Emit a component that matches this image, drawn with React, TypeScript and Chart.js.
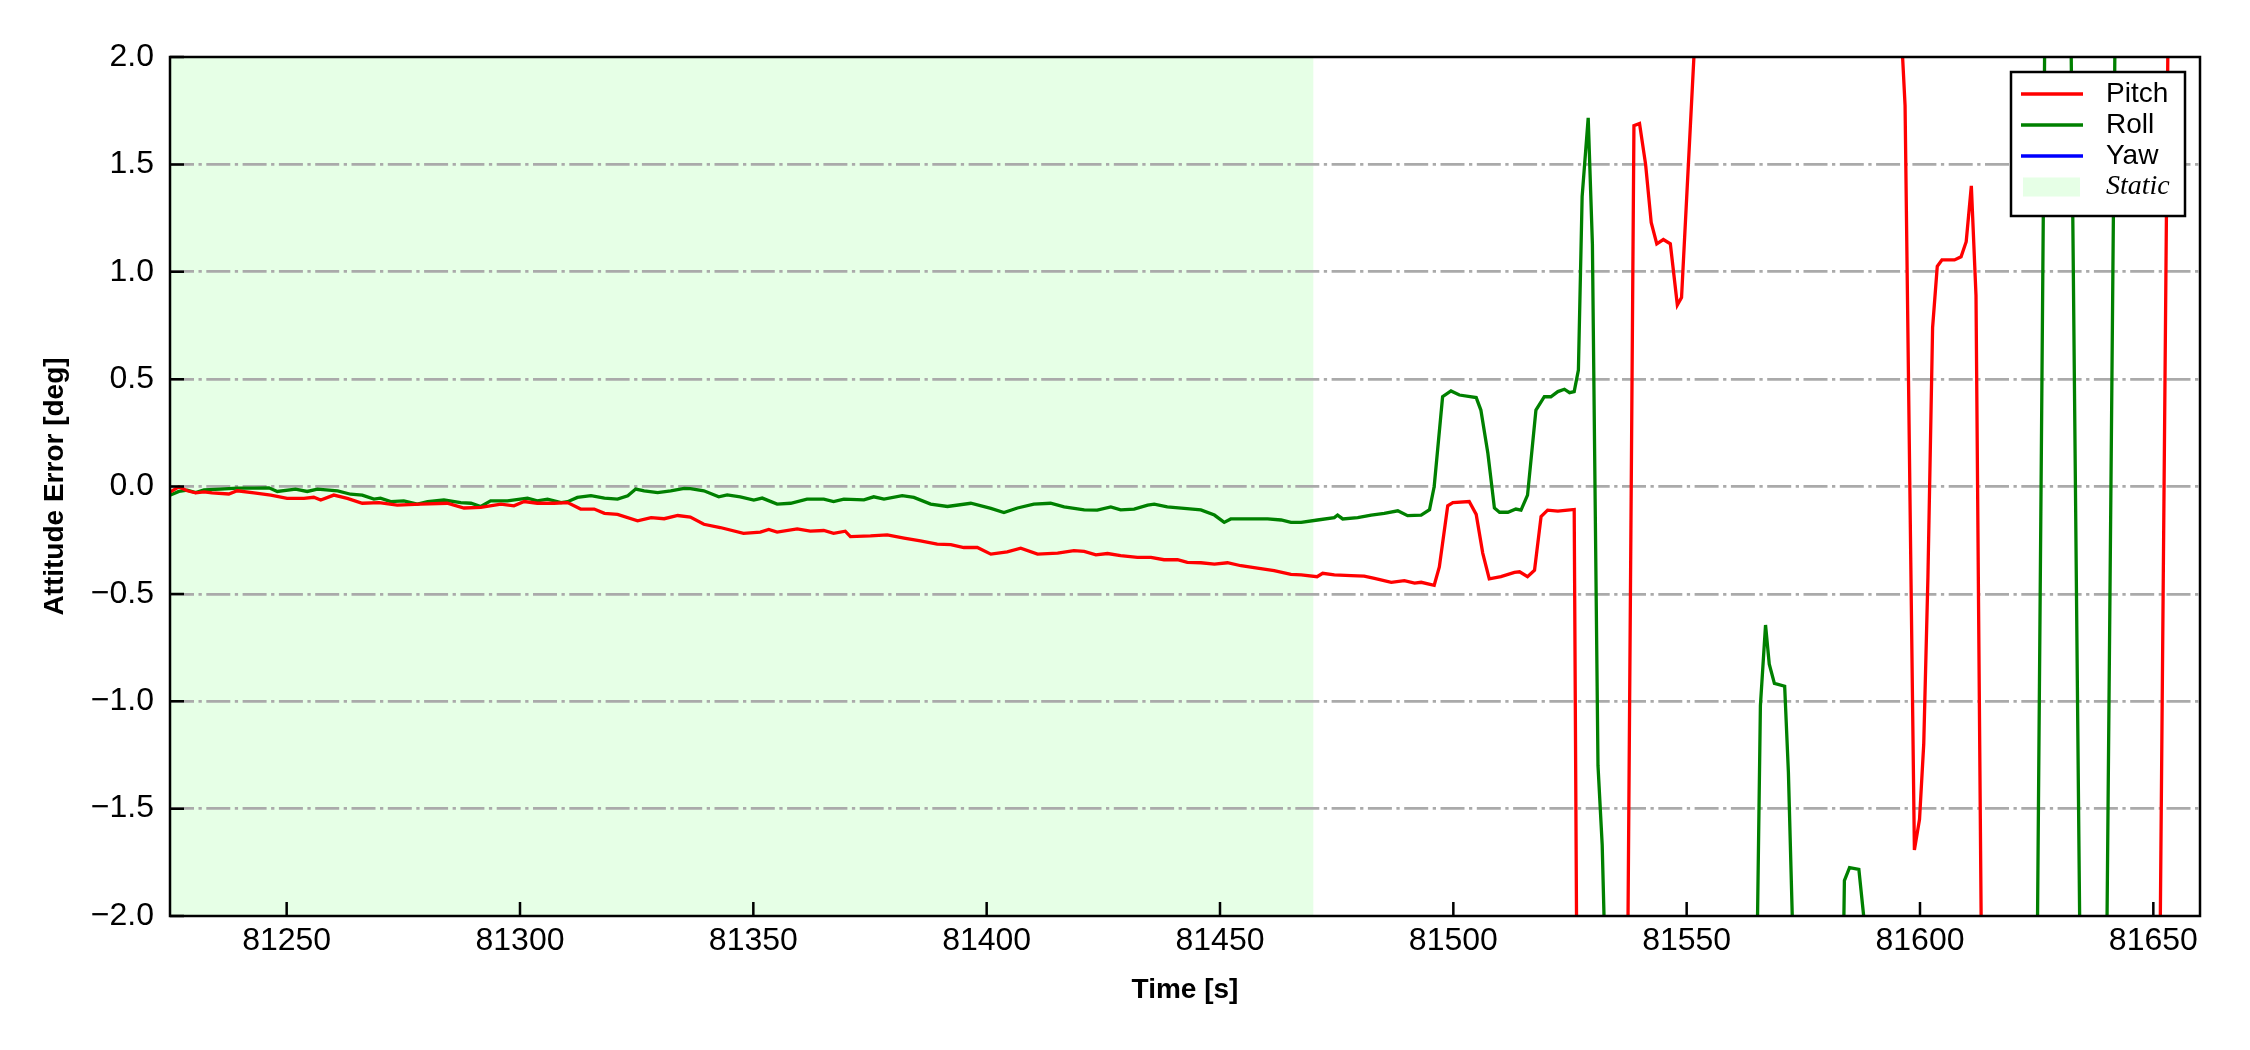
import React, { useEffect, useRef } from "react";
import { Chart, registerables } from "chart.js";

Chart.register(...registerables);

// ---------------- data ----------------
const pitchTime = [
  81225.1, 81226.9, 81228.7, 81230.5, 81232.3, 81234.0, 81237.6, 81239.4, 81243.0, 81246.6,
  81250.1, 81253.7, 81255.8, 81257.3, 81260.1, 81263.0, 81266.2, 81269.8, 81273.7, 81278.7,
  81284.4, 81288.0, 81291.6, 81295.9, 81298.7, 81300.9, 81303.7, 81307.3, 81310.2, 81313.0,
  81315.9, 81318.1, 81320.9, 81325.2, 81328.1, 81330.9, 81333.8, 81336.5,
  81339.4, 81342.9, 81347.9, 81351.5, 81353.3, 81355.1, 81359.4, 81362.2, 81365.1, 81367.2,
  81369.7, 81370.8, 81375.1, 81378.7, 81382.3, 81385.8, 81389.4, 81392.3, 81395.1, 81398.0,
  81400.9, 81404.4, 81407.3, 81410.9, 81415.2, 81418.7, 81420.9, 81423.4, 81425.9, 81428.7,
  81432.3, 81435.2, 81438.0, 81440.9, 81443.0, 81445.9, 81448.8, 81451.6, 81454.5, 81457.3,
  81461.6, 81465.2, 81467.4, 81470.8, 81472.0, 81474.5, 81478.1, 81480.9, 81483.1, 81486.7,
  81489.5, 81491.7, 81493.1, 81495.9, 81497.0, 81498.8, 81499.9, 81503.4, 81504.9, 81506.3,
  81507.7, 81510.2, 81513.1, 81514.2, 81515.9, 81517.4, 81518.8, 81520.2, 81522.4, 81524.5,
  81525.9, 81527.0, 81531.0, 81536.0, 81537.3, 81538.7, 81539.9, 81541.2, 81542.4, 81543.6,
  81545.0, 81546.5, 81548.0, 81548.9, 81552.5, 81560.0, 81575.0, 81590.0, 81594.0, 81595.8,
  81596.8, 81598.8, 81599.9, 81600.8, 81601.7, 81602.7, 81603.7, 81604.7, 81607.4, 81608.8,
  81609.9, 81611.0, 81612.0, 81614.0, 81625.0, 81640.0, 81651.0, 81654.0, 81660.0,
];
const pitchValue = [
  -0.025, -0.002, -0.02, -0.03, -0.025, -0.03, -0.035, -0.02, -0.03, -0.04,
  -0.055, -0.055, -0.05, -0.063, -0.04, -0.055, -0.078, -0.075, -0.087, -0.082,
  -0.078, -0.1, -0.097, -0.082, -0.09, -0.07, -0.078, -0.078, -0.075, -0.105,
  -0.105, -0.125, -0.13, -0.16, -0.145, -0.15, -0.135, -0.142,
  -0.176, -0.191, -0.218, -0.212, -0.2, -0.212, -0.197, -0.208, -0.205, -0.218,
  -0.208, -0.233, -0.23, -0.225, -0.24, -0.253, -0.268, -0.271, -0.284, -0.284,
  -0.315, -0.304, -0.287, -0.315, -0.31, -0.299, -0.302, -0.318, -0.312, -0.322,
  -0.33, -0.33, -0.341, -0.341, -0.353, -0.355, -0.361, -0.355, -0.369, -0.378,
  -0.392, -0.409, -0.412, -0.42, -0.404, -0.412, -0.415, -0.417, -0.428, -0.446,
  -0.438, -0.45, -0.446, -0.46, -0.375, -0.09, -0.075, -0.07, -0.13, -0.31,
  -0.43, -0.42, -0.4, -0.397, -0.42, -0.39, -0.14, -0.11, -0.115, -0.11,
  -0.107, -4.3, -5.2, -4.0, -2.4, 1.68, 1.69, 1.5, 1.23, 1.13,
  1.15, 1.13, 0.845, 0.88, 2.4, 4.8, 5.5, 4.6, 3.5, 2.2,
  1.774, -1.693, -1.55, -1.2, -0.42, 0.74, 1.025, 1.055, 1.055, 1.07,
  1.14, 1.4, 0.89, -4.37, -5.5, -4.8, -3.25, 4.25, 6.0,
];

const rollTime = [
  81225.1, 81226.9, 81228.7, 81230.5, 81232.3, 81235.8, 81239.4, 81243.0, 81246.2, 81248.0,
  81251.9, 81254.4, 81256.6, 81260.9, 81263.7, 81266.2, 81268.7, 81270.1, 81272.3, 81275.1,
  81278.0, 81280.2, 81283.7, 81287.3, 81289.5, 81291.6, 81293.7, 81297.3, 81301.6, 81303.7,
  81305.9, 81308.8, 81310.2, 81312.3, 81315.2, 81318.1, 81320.9, 81323.1, 81324.8, 81326.6,
  81329.5, 81332.3, 81335.2, 81336.5, 81339.4, 81342.6, 81344.4, 81347.2, 81350.1, 81351.9,
  81355.1, 81358.0, 81361.5, 81365.1, 81367.2, 81369.4, 81373.7, 81375.8, 81378.0, 81381.9,
  81384.4, 81388.0, 81391.6, 81396.6, 81400.9, 81403.7, 81406.6, 81410.1, 81413.7, 81416.6,
  81420.9, 81423.7, 81426.6, 81428.7, 81431.6, 81434.5, 81435.9, 81438.7, 81442.3, 81445.9,
  81448.8, 81450.9, 81452.3, 81455.9, 81460.2, 81463.1, 81465.2, 81467.4, 81470.9, 81474.5,
  81475.2, 81476.3, 81479.5, 81482.4, 81485.2, 81488.1, 81490.2, 81493.1, 81494.9, 81495.9,
  81497.7, 81499.5, 81501.3, 81504.9, 81505.9, 81507.4, 81508.8, 81509.9, 81511.7, 81513.4,
  81514.5, 81515.9, 81517.7, 81519.5, 81520.9, 81522.4, 81523.8, 81524.9, 81525.9, 81526.8,
  81527.6, 81528.9, 81529.8, 81531.0, 81531.9, 81533.0, 81540.0, 81555.0, 81565.0, 81565.8,
  81566.9, 81567.7, 81568.8, 81571.0, 81571.8, 81573.0, 81578.0, 81583.5, 81583.8, 81584.9,
  81586.9, 81588.5, 81590.0, 81610.0, 81625.0, 81627.0, 81629.0, 81632.0, 81634.5, 81637.0,
  81640.0, 81642.0, 81650.0, 81660.0,
];
const rollValue = [
  -0.04, -0.023, -0.017, -0.028, -0.016, -0.012, -0.008, -0.008, -0.006, -0.023,
  -0.012, -0.023, -0.012, -0.02, -0.036, -0.04, -0.059, -0.054, -0.07, -0.067,
  -0.082, -0.071, -0.063, -0.075, -0.078, -0.093, -0.067, -0.067, -0.054, -0.067,
  -0.059, -0.075, -0.071, -0.051, -0.043, -0.054, -0.059, -0.043, -0.012, -0.02,
  -0.028, -0.02, -0.009, -0.01, -0.02, -0.048, -0.039, -0.048, -0.063, -0.054,
  -0.082, -0.078, -0.059, -0.059, -0.07, -0.059, -0.062, -0.048, -0.059, -0.043,
  -0.051, -0.082, -0.093, -0.078, -0.102, -0.121, -0.1, -0.082, -0.078, -0.095,
  -0.109, -0.11, -0.095, -0.109, -0.105, -0.087, -0.082, -0.095, -0.102, -0.109,
  -0.133, -0.167, -0.151, -0.151, -0.151, -0.156, -0.167, -0.167, -0.156, -0.145,
  -0.133, -0.151, -0.145, -0.133, -0.125, -0.113, -0.136, -0.133, -0.108, 0.0,
  0.418, 0.445, 0.426, 0.414, 0.356, 0.155, -0.1, -0.12, -0.12, -0.105,
  -0.11, -0.04, 0.356, 0.418, 0.418, 0.442, 0.453, 0.437, 0.442, 0.542,
  1.35, 1.717, 1.13, -1.3, -1.67, -2.6, -4.8, -4.5, -2.3, -1.02,
  -0.645, -0.827, -0.917, -0.93, -1.331, -2.3, -4.5, -2.3, -1.835, -1.775,
  -1.783, -2.12, -4.5, -5.0, -2.5, 2.8, 4.5, 2.9, -2.65, -4.0,
  -2.2, 2.6, 5.0, 5.0,
];

// Yaw error stays outside the plotted range: nothing visible
const yawTime: number[] = [];
const yawValue: number[] = [];

const seriesLabels = ["Pitch", "Roll", "Yaw"];
const staticLabel = "Static";
const staticStart = 81225;
const staticEnd = 81470;

const xMin = 81225;
const xMax = 81660;
const xTicks = [81250, 81300, 81350, 81400, 81450, 81500, 81550, 81600, 81650];
const xTickLabels = ["81250", "81300", "81350", "81400", "81450", "81500", "81550", "81600", "81650"];
const yTicks = [-2, -1.5, -1, -0.5, 0, 0.5, 1, 1.5, 2];
const yTickLabels = ["\u22122.0", "\u22121.5", "\u22121.0", "\u22120.5", "0.0", "0.5", "1.0", "1.5", "2.0"];

const xTitle = "Time [s]";
const yTitle = "Attitude Error [deg]";

// ---------------- styling ----------------
const SANS = "'Liberation Sans', Arial, sans-serif";
const SERIF = "'Liberation Serif', 'Times New Roman', serif";
const STATIC_FILL = "#e6ffe6";
const LINE_W = 3.3;

const toPoints = (t: number[], v: number[]) => t.map((x, i) => ({ x, y: v[i] }));

const staticPlugin = {
  id: "staticShade",
  beforeDraw(chart: any) {
    const { ctx, chartArea, scales } = chart;
    const x0 = Math.max(scales.x.getPixelForValue(staticStart), chartArea.left);
    const x1 = Math.min(scales.x.getPixelForValue(staticEnd), chartArea.right);
    ctx.save();
    ctx.fillStyle = STATIC_FILL;
    ctx.fillRect(x0, chartArea.top, x1 - x0, chartArea.bottom - chartArea.top);
    ctx.restore();
  },
};

const framePlugin = {
  id: "frameTicks",
  afterDatasetsDraw(chart: any) {
    const { ctx, chartArea, scales } = chart;
    const { left, right, top, bottom } = chartArea;
    ctx.save();
    ctx.strokeStyle = "#000";
    ctx.lineWidth = 2.5;
    ctx.beginPath();
    for (const t of scales.y.ticks) {
      const y = scales.y.getPixelForValue(t.value);
      ctx.moveTo(left, y);
      ctx.lineTo(left + 14, y);
    }
    for (const t of scales.x.ticks) {
      const x = scales.x.getPixelForValue(t.value);
      ctx.moveTo(x, bottom);
      ctx.lineTo(x, bottom - 14);
    }
    ctx.stroke();
    ctx.strokeRect(left, top, right - left, bottom - top);
    ctx.restore();
  },
};

const legendPlugin = {
  id: "boxLegend",
  afterDraw(chart: any) {
    const { ctx, chartArea } = chart;
    const boxR = chartArea.right - 15;
    const boxT = chartArea.top + 15;
    const boxW = 174;
    const boxH = 144;
    const boxL = boxR - boxW;
    ctx.save();
    ctx.fillStyle = "#fff";
    ctx.fillRect(boxL, boxT, boxW, boxH);
    ctx.strokeStyle = "#000";
    ctx.lineWidth = 2.5;
    ctx.strokeRect(boxL, boxT, boxW, boxH);
    const rowY = (i: number) => boxT + 22 + i * 31;
    ctx.textBaseline = "middle";
    ctx.textAlign = "left";
    chart.data.datasets.forEach((ds: any, i: number) => {
      const y = rowY(i);
      ctx.strokeStyle = ds.borderColor;
      ctx.lineWidth = LINE_W;
      ctx.beginPath();
      ctx.moveTo(boxL + 10, y);
      ctx.lineTo(boxL + 72, y);
      ctx.stroke();
      ctx.fillStyle = "#000";
      ctx.font = `28px ${SANS}`;
      ctx.fillText(ds.label, boxL + 95, y);
    });
    const ys = rowY(chart.data.datasets.length);
    ctx.fillStyle = STATIC_FILL;
    ctx.fillRect(boxL + 12, ys - 9.5, 57, 19);
    ctx.fillStyle = "#000";
    ctx.font = `italic 28px ${SERIF}`;
    ctx.fillText(staticLabel, boxL + 95, ys);
    ctx.restore();
  },
};

export default function App() {
  const canvasRef = useRef<HTMLCanvasElement | null>(null);

  useEffect(() => {
    document.body.style.margin = "0";
    document.body.style.overflow = "hidden";
    const canvas = canvasRef.current;
    if (!canvas) return;
    const tickFont = { family: SANS, size: 32 };
    const titleFont = { family: SANS, size: 28, weight: "bold" as const };
    const chart = new Chart(canvas, {
      type: "line",
      data: {
        datasets: [
          { label: seriesLabels[0], data: toPoints(pitchTime, pitchValue), borderColor: "#ff0000" },
          { label: seriesLabels[1], data: toPoints(rollTime, rollValue), borderColor: "#008000" },
          { label: seriesLabels[2], data: toPoints(yawTime, yawValue), borderColor: "#0000ff" },
        ].map((d) => ({
          ...d,
          borderWidth: LINE_W,
          pointRadius: 0,
          tension: 0,
          fill: false,
          clip: 0,
          spanGaps: true,
        })) as any,
      },
      options: {
        responsive: false,
        animation: false,
        devicePixelRatio: 1,
        parsing: false as any,
        normalized: true,
        layout: { padding: { left: 0, top: 57, right: 50, bottom: 0 } },
        plugins: {
          legend: { display: false },
          tooltip: { enabled: false },
        },
        scales: {
          x: {
            type: "linear",
            min: xMin,
            max: xMax,
            afterFit: (s: any) => {
              s.height = 134;
            },
            afterBuildTicks: (s: any) => {
              s.ticks = xTicks.map((v) => ({ value: v }));
            },
            grid: { display: false, drawTicks: false },
            border: { display: false },
            ticks: {
              font: tickFont,
              color: "#000",
              padding: 6,
              maxRotation: 0,
              autoSkip: false,
              callback: (_v: any, i: number) => xTickLabels[i],
            },
            title: {
              display: true,
              text: xTitle,
              font: titleFont,
              color: "#000",
              padding: { top: 0, bottom: 43 },
            },
          },
          y: {
            type: "linear",
            min: -2,
            max: 2,
            afterFit: (s: any) => {
              s.width = 170;
            },
            afterBuildTicks: (s: any) => {
              s.ticks = yTicks.map((v) => ({ value: v }));
            },
            grid: {
              drawTicks: false,
              lineWidth: 2.7,
              color: (c: any) =>
                c.tick && Math.abs(c.tick.value) >= 2 ? "rgba(0,0,0,0)" : "#aaaaaa",
            },
            border: { display: false, dash: [24, 4.5, 3.3, 4.5] },
            ticks: {
              font: tickFont,
              color: "#000",
              padding: 16,
              autoSkip: false,
              callback: (_v: any, i: number) => yTickLabels[i],
            },
            title: {
              display: true,
              text: yTitle,
              font: titleFont,
              color: "#000",
              padding: { top: 38, bottom: 0 },
            },
          },
        },
      } as any,
      plugins: [staticPlugin, framePlugin, legendPlugin],
    });
    return () => chart.destroy();
  }, []);

  return (
    <canvas
      ref={canvasRef}
      width={2250}
      height={1050}
      style={{ display: "block", width: "2250px", height: "1050px" }}
    />
  );
}
